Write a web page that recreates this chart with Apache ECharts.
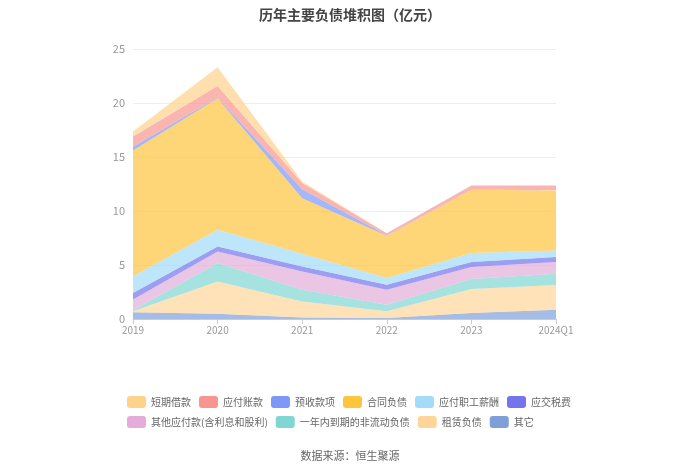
<!DOCTYPE html>
<html>
<head>
<meta charset="utf-8">
<script src="https://cdn.jsdelivr.net/npm/echarts@6/dist/echarts.min.js"></script>
<style>html,body{margin:0;padding:0;background:#fff;}#c{width:700px;height:474px;}</style>
</head>
<body>
<div id="c"></div>
<script>
var categories = ['2019', '2020', '2021', '2022', '2023', '2024Q1'];
var yTicks = [0, 5, 10, 15, 20, 25];

// stacked from bottom to top
var qita = [0.62, 0.49, 0.15, 0.10, 0.55, 0.86];          // 其它
var zulinfuzhai = [0.10, 2.99, 1.48, 0.61, 2.22, 2.28];   // 租赁负债
var yinian = [0.10, 1.70, 1.08, 0.62, 0.93, 1.05];        // 一年内到期的非流动负债
var qitayingfu = [0.98, 1.07, 1.69, 1.38, 1.11, 1.08];    // 其他应付款(含利息和股利)
var yingjiaoshuifei = [0.60, 0.47, 0.45, 0.46, 0.46, 0.46]; // 应交税费
var zhigongxinchou = [1.55, 1.54, 1.19, 0.62, 0.83, 0.62];  // 应付职工薪酬
var hetongfuzhai = [11.65, 12.18, 5.15, 3.91, 5.86, 5.55];  // 合同负债
var yushoukuanxiang = [0.35, 0.06, 0.83, 0.05, 0.04, 0.02]; // 预收款项
var yingfuzhangkuan = [0.95, 1.08, 0.58, 0.20, 0.36, 0.44]; // 应付账款
var duanqijiekuan = [0.45, 1.72, 0.13, 0.00, 0.00, 0.00];   // 短期借款

var seriesNames = ['其它', '租赁负债', '一年内到期的非流动负债', '其他应付款(含利息和股利)', '应交税费', '应付职工薪酬', '合同负债', '预收款项', '应付账款', '短期借款'];
var seriesData = [qita, zulinfuzhai, yinian, qitayingfu, yingjiaoshuifei, zhigongxinchou, hetongfuzhai, yushoukuanxiang, yingfuzhangkuan, duanqijiekuan];
var colors = ['#7f9fd8', '#ffd699', '#7fd6d3', '#e3acd9', '#7474ec', '#a3dcf8', '#ffc53d', '#7d98f7', '#f89590', '#ffd28c'];
var legendOrder = ['短期借款', '应付账款', '预收款项', '合同负债', '应付职工薪酬', '应交税费', '其他应付款(含利息和股利)', '一年内到期的非流动负债', '租赁负债', '其它'];

var chart = echarts.init(document.getElementById('c'), null, {renderer: 'canvas'});
var series = seriesNames.map(function (n, i) {
  return {
    name: n,
    type: 'line',
    stack: 'total',
    data: seriesData[i],
    showSymbol: false,
    symbol: 'none',
    lineStyle: {width: 0, color: colors[i]},
    itemStyle: {color: colors[i]},
    areaStyle: {color: colors[i], opacity: 0.7},
    emphasis: {disabled: true}
  };
});

chart.setOption({
  animation: false,
  backgroundColor: '#fff',
  title: {
    text: '历年主要负债堆积图（亿元）',
    left: 'center',
    top: 3,
    textStyle: {fontSize: 14, fontWeight: 'bold', color: '#444', fontFamily: 'Noto Sans CJK SC'}
  },
  legend: {
    data: legendOrder,
    left: 122,
    top: 391,
    width: 470,
    icon: 'roundRect',
    itemWidth: 19,
    itemHeight: 12,
    itemGap: 8,
    textStyle: {fontSize: 10, color: '#666', fontFamily: 'Noto Sans CJK SC'}
  },
  grid: {left: 133, right: 144, top: 49, bottom: 155},
  xAxis: {
    type: 'category',
    boundaryGap: false,
    data: categories,
    axisLine: {lineStyle: {color: '#ccc'}},
    axisTick: {show: true, lineStyle: {color: '#ccc'}},
    axisLabel: {color: '#999', fontSize: 10, margin: 6, fontFamily: 'Noto Sans CJK SC'}
  },
  yAxis: {
    type: 'value',
    min: yTicks[0],
    max: yTicks[yTicks.length - 1],
    interval: 5,
    axisLine: {show: false},
    axisTick: {show: false},
    splitLine: {lineStyle: {color: '#eee'}},
    axisLabel: {color: '#999', fontSize: 11, margin: 8, fontFamily: 'Noto Sans CJK SC'}
  },
  graphic: [{
    type: 'text',
    left: 'center',
    top: 450,
    style: {text: '数据来源：恒生聚源', fontSize: 11, fill: '#666', fontFamily: 'Noto Sans CJK SC'}
  }],
  series: series
});
</script>
</body>
</html>
